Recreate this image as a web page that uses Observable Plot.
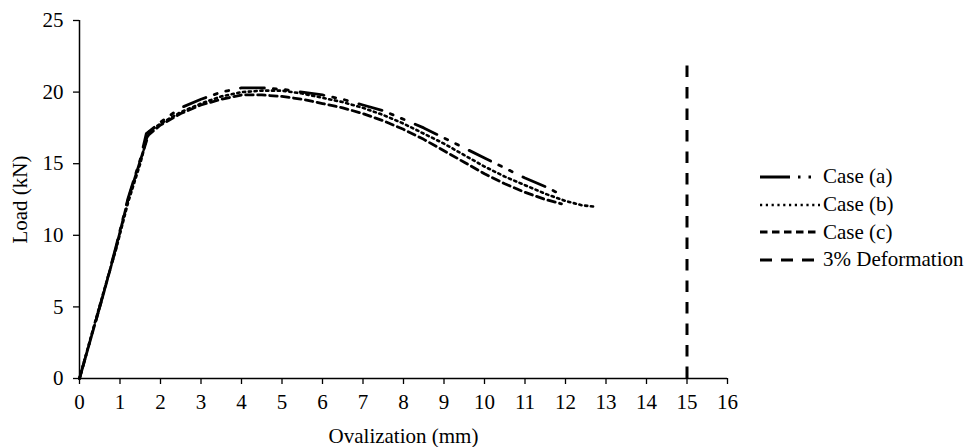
<!DOCTYPE html>
<html>
<head>
<meta charset="utf-8">
<script src="https://cdn.jsdelivr.net/npm/d3@7"></script>
<script src="https://cdn.jsdelivr.net/npm/@observablehq/plot@0.6"></script>
<style>
  html, body { margin: 0; padding: 0; background: #fff; }
  #wrap { position: relative; width: 974px; height: 447px; font-family: "Liberation Serif", "Times New Roman", serif; }
  #legend { position: absolute; left: 759px; top: 163px; font-size: 21px; color: #000; }
  #legend .row { display: flex; align-items: center; height: 27.7px; white-space: nowrap; }
  #legend svg { display: block; margin-right: 2px; }
</style>
</head>
<body>
<div id="wrap"></div>
<script>
// Case (a)
const caseAX = [0, 0.3, 0.6, 0.9, 1.2, 1.5, 1.65, 2.0, 2.5, 3.0, 3.5, 4.0, 4.5, 5.0, 5.5, 6.0, 6.5, 7.0, 7.5, 8.0, 8.5, 9.0, 9.5, 10.0, 10.5, 11.0, 11.5, 11.85];
const caseAY = [0, 3.0, 6.0, 9.2, 12.6, 15.3, 17.1, 17.9, 18.9, 19.5, 20.0, 20.3, 20.3, 20.2, 20.0, 19.8, 19.5, 19.1, 18.7, 18.1, 17.5, 16.8, 16.1, 15.4, 14.7, 14.0, 13.4, 12.9];
// Case (b)
const caseBX = [0, 0.3, 0.6, 0.9, 1.2, 1.5, 1.7, 2.0, 2.5, 3.0, 3.5, 4.0, 4.5, 5.0, 5.5, 6.0, 6.5, 7.0, 7.5, 8.0, 8.5, 9.0, 9.5, 10.0, 10.5, 11.0, 11.5, 12.0, 12.4, 12.7];
const caseBY = [0, 3.1, 6.1, 9.0, 12.3, 15.0, 17.2, 17.8, 18.6, 19.2, 19.7, 20.0, 20.1, 20.1, 19.9, 19.6, 19.3, 18.9, 18.4, 17.8, 17.1, 16.4, 15.6, 14.8, 14.1, 13.5, 12.9, 12.4, 12.1, 12.0];
// Case (c)
const caseCX = [0, 0.3, 0.6, 0.9, 1.2, 1.5, 1.7, 2.0, 2.5, 3.0, 3.5, 4.0, 4.5, 5.0, 5.5, 6.0, 6.5, 7.0, 7.5, 8.0, 8.5, 9.0, 9.5, 10.0, 10.5, 11.0, 11.5, 11.9];
const caseCY = [0, 3.0, 6.0, 9.1, 12.5, 15.2, 17.0, 17.7, 18.5, 19.1, 19.5, 19.8, 19.8, 19.7, 19.5, 19.2, 18.9, 18.5, 18.0, 17.4, 16.7, 15.9, 15.1, 14.3, 13.6, 13.0, 12.5, 12.2];
// 3% deformation limit
const deformX = [15];
const deformTop = [22];
// ticks
const xTicks = [0, 1, 2, 3, 4, 5, 6, 7, 8, 9, 10, 11, 12, 13, 14, 15, 16];
const yTicks = [0, 5, 10, 15, 20, 25];
const legendLabels = ["Case (a)", "Case (b)", "Case (c)", "3% Deformation"];

const toRows = (xs, ys) => xs.map((x, i) => ({x, y: ys[i]}));
const dashA = "24 9 3 9 3 12";
const dashB = "2.2 3.6";
const dashC = "7.5 4.5";
const dashD = "11.5 10";

const chart = Plot.plot({
  width: 974,
  height: 447,
  marginLeft: 79,
  marginRight: 247,
  marginTop: 20,
  marginBottom: 69,
  style: {fontFamily: "Liberation Serif, Times New Roman, serif", fontSize: "21px", color: "#000", background: "#fff", overflow: "visible"},
  x: {domain: [0, 16]},
  y: {domain: [0, 25]},
  marks: [
    Plot.axisX({ticks: xTicks, tickSize: 6, tickPadding: 10, tickFormat: d => String(d), label: "Ovalization (mm)", labelAnchor: "center", labelArrow: "none", labelOffset: 64, strokeWidth: 1.3}),
    Plot.axisY({ticks: yTicks, tickSize: 6, tickPadding: 10, tickFormat: d => String(d), label: "Load (kN)", labelAnchor: "center", labelArrow: "none", labelOffset: 67, strokeWidth: 1.3}),
    Plot.ruleY([0], {stroke: "#000", strokeWidth: 1.5}),
    Plot.ruleX([0], {stroke: "#000", strokeWidth: 1.5}),
    Plot.line(toRows(caseCX, caseCY), {x: "x", y: "y", stroke: "#000", strokeWidth: 2.8, strokeDasharray: dashC}),
    Plot.line(toRows(caseBX, caseBY), {x: "x", y: "y", stroke: "#000", strokeWidth: 2.6, strokeDasharray: dashB}),
    Plot.line(toRows(caseAX, caseAY), {x: "x", y: "y", stroke: "#000", strokeWidth: 2.8, strokeDasharray: dashA}),
    Plot.ruleX(deformX.map((x, i) => ({x, top: deformTop[i]})), {x: "x", y1: 0, y2: "top", stroke: "#000", strokeWidth: 3, strokeDasharray: dashD})
  ]
});
const wrap = document.getElementById("wrap");
wrap.appendChild(chart);

const legend = document.createElement("div");
legend.id = "legend";
const dashes = [["30 8 2.5 8 2.5 30", 2.8], [dashB, 2.4], [dashC, 2.8], ["12 9", 3]];
legendLabels.forEach((lab, i) => {
  const row = document.createElement("div");
  row.className = "row";
  row.innerHTML = `<svg width="62" height="10"><line x1="1" y1="5" x2="61" y2="5" stroke="#000" stroke-width="${dashes[i][1]}" stroke-dasharray="${dashes[i][0]}"/></svg><span>${lab}</span>`;
  legend.appendChild(row);
});
wrap.appendChild(legend);
</script>
</body>
</html>
